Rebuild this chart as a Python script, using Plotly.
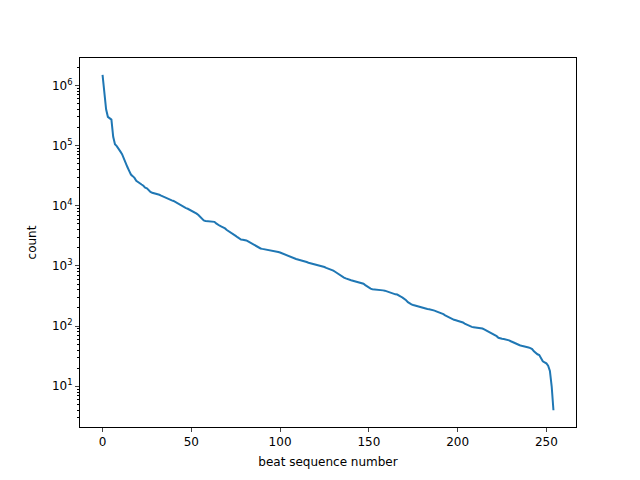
import plotly.graph_objects as go

counts = [
    1.5e6, 8e5, 4e5, 3.0e5, 2.8e5, 2.7e5, 1.4e5, 1.05e5, 9.8e4, 9.0e4,
    8.0e4, 7.2e4, 6.0e4, 5.0e4, 4.4e4, 3.8e4, 3.3e4, 3.1e4, 2.9e4, 2.6e4,
    2.45e4, 2.35e4, 2.25e4, 2.15e4, 2.0e4, 1.95e4, 1.8e4, 1.7e4, 1.64e4, 1.62e4,
    1.58e4, 1.55e4, 1.52e4, 1.47e4, 1.42e4, 1.38e4, 1.35e4, 1.31e4, 1.27e4, 1.23e4,
    1.2e4, 1.15e4, 1.1e4, 1.05e4, 1.0e4, 9.7e3, 9.4e3, 9.1e3, 8.9e3, 8.6e3,
    8.3e3, 8.0e3, 7.8e3, 7.4e3, 7.0e3, 6.6e3, 6.1e3, 5.7e3, 5.6e3, 5.55e3,
    5.5e3, 5.5e3, 5.45e3, 5.4e3, 5.1e3, 4.8e3, 4.65e3, 4.5e3, 4.4e3, 4.2e3,
    3.95e3, 3.75e3, 3.6e3, 3.45e3, 3.3e3, 3.15e3, 3.0e3, 2.85e3, 2.75e3, 2.72e3,
    2.7e3, 2.65e3, 2.55e3, 2.45e3, 2.35e3, 2.25e3, 2.15e3, 2.05e3, 1.98e3, 1.95e3,
    1.92e3, 1.9e3, 1.87e3, 1.84e3, 1.81e3, 1.78e3, 1.76e3, 1.74e3, 1.72e3, 1.7e3,
    1.67e3, 1.62e3, 1.57e3, 1.52e3, 1.48e3, 1.44e3, 1.41e3, 1.37e3, 1.33e3, 1.3e3,
    1.28e3, 1.26e3, 1.25e3, 1.22e3, 1.19e3, 1.16e3, 1.13e3, 1.11e3, 1.09e3, 1.07e3,
    1.06e3, 1.05e3, 1.03e3, 1.0e3, 980, 960, 930, 910, 890, 870,
    835, 800, 760, 720, 690, 660, 640, 620, 600, 590,
    578, 568, 558, 548, 540, 530, 518, 505, 480, 455,
    430, 418, 410, 405, 400, 398, 396, 394, 392, 388,
    378, 365, 355, 348, 342, 337, 334, 325, 310, 297,
    285, 268, 250, 238, 230, 224, 218, 213, 210, 207,
    203, 198, 195, 192, 190, 188, 185, 181, 176, 172,
    169, 165, 158, 151, 145, 140, 134, 130, 127, 125,
    123, 122, 119, 115, 110, 106, 102, 99, 97, 96,
    95, 94.5, 94, 93, 91, 88, 85, 83, 80, 77,
    75, 72, 68, 64, 62, 61.5, 61, 60.5, 60, 58,
    56, 54, 53, 51, 49.5, 48, 47, 46.5, 46, 45.5,
    44, 43, 41.5, 38, 35.5, 34, 33, 29, 26, 25,
    24, 22, 18, 10, 4,
]
beats = list(range(len(counts)))

x_ticks = [0, 50, 100, 150, 200, 250]
y_tick_vals = [10, 100, 1000, 10000, 100000, 1000000]
y_tick_text = ["10<sup>1</sup>", "10<sup>2</sup>", "10<sup>3</sup>",
               "10<sup>4</sup>", "10<sup>5</sup>", "10<sup>6</sup>"]
minor_vals = [m * 10 ** e for e in range(0, 7) for m in range(2, 10)]

fig = go.Figure(go.Scatter(x=beats, y=counts, mode="lines",
                           line=dict(color="#1f77b4", width=2)))

fig.update_layout(
    width=640, height=480,
    margin=dict(l=80, r=64, t=58, b=53),
    paper_bgcolor="white", plot_bgcolor="white",
    font=dict(family="DejaVu Sans", size=12, color="black"),
    showlegend=False,
)
fig.update_xaxes(
    range=[-12.7, 266.7], tickvals=x_ticks, ticks="outside", ticklen=4,
    showgrid=False, zeroline=False, showline=True, linecolor="black", mirror=True,
    title=dict(text="beat sequence number", standoff=9, font=dict(size=12)),
    tickfont=dict(size=12), automargin=False,
)
fig.update_yaxes(
    type="log", range=[0.323, 6.455], tickvals=y_tick_vals, ticktext=y_tick_text,
    ticks="outside", ticklen=4, showgrid=False, zeroline=False, showline=True,
    linecolor="black", mirror=True,
    minor=dict(tickvals=minor_vals, ticks="outside", ticklen=2, tickcolor="black", showgrid=False),
    title=dict(text="count", standoff=12, font=dict(size=12)),
    tickfont=dict(size=12), automargin=False,
)

fig.write_html("out.html", config={"displayModeBar": False},
               post_script="document.body.style.margin='0';")
